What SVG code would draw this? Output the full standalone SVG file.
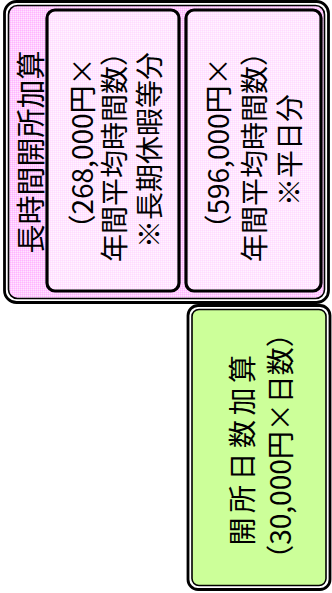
<svg xmlns="http://www.w3.org/2000/svg" width="332" height="593" viewBox="0 0 332 593">
<defs>
<pattern id="pinkDither" width="2" height="2" patternUnits="userSpaceOnUse">
<rect width="2" height="2" fill="#FFCCFF"/>
<rect width="1" height="1" fill="#FFB3FF"/>
<rect x="1" y="1" width="1" height="1" fill="#FFE6FF"/>
</pattern>
<pattern id="lightDither" width="2" height="2" patternUnits="userSpaceOnUse">
<rect width="2" height="2" fill="#FFE6FF"/>
<rect width="1" height="1" fill="#FFDAFF"/>
<rect x="1" y="1" width="1" height="1" fill="#FFF4FF"/>
</pattern>
</defs>
<style>
.t{font-family:"Noto Sans CJK JP","Noto Sans",sans-serif;font-size:28px;fill:#000;text-anchor:middle;dominant-baseline:central}
.outer{stroke:#000;stroke-width:2.8;fill:#fff}
.inline{stroke:#000;stroke-width:1.6}
.box{stroke:#000;stroke-width:3.2;fill:url(#lightDither)}
</style>
<g id="long-hours">
<rect class="outer" x="4.5" y="1.5" width="324" height="301" rx="12"/>
<rect class="inline" x="8.5" y="5.5" width="316" height="293" rx="9" fill="url(#pinkDither)"/>
<text class="t" transform="translate(28.5,152) rotate(-90)" style="font-size:29px">長時間開所加算</text>
</g>
<g id="holiday">
<rect class="box" x="47" y="10" width="132" height="281" rx="8"/>
<text class="t" transform="translate(81,150) rotate(-90)">（268,000円×</text>
<text class="t" transform="translate(113,150) rotate(-90)">年間平均時間数）</text>
<text class="t" transform="translate(148,150) rotate(-90)">※長期休暇等分</text>
</g>
<g id="weekday">
<rect class="box" x="186" y="10" width="135" height="281" rx="8"/>
<text class="t" transform="translate(217,150) rotate(-90)">（596,000円×</text>
<text class="t" transform="translate(253,150) rotate(-90)">年間平均時間数）</text>
<text class="t" transform="translate(288,150) rotate(-90)">※平日分</text>
</g>
<g id="days">
<rect class="outer" x="188" y="305.5" width="142" height="284" rx="10"/>
<rect class="inline" x="192" y="309.5" width="134" height="276" rx="7" fill="#CCFF99"/>
<text class="t" transform="translate(241,448) rotate(-90)" letter-spacing="4.5">開所日数加算</text>
<text class="t" transform="translate(279,446) rotate(-90)">（30,000円×日数）</text>
</g>
<g id="connectors"/>
</svg>
